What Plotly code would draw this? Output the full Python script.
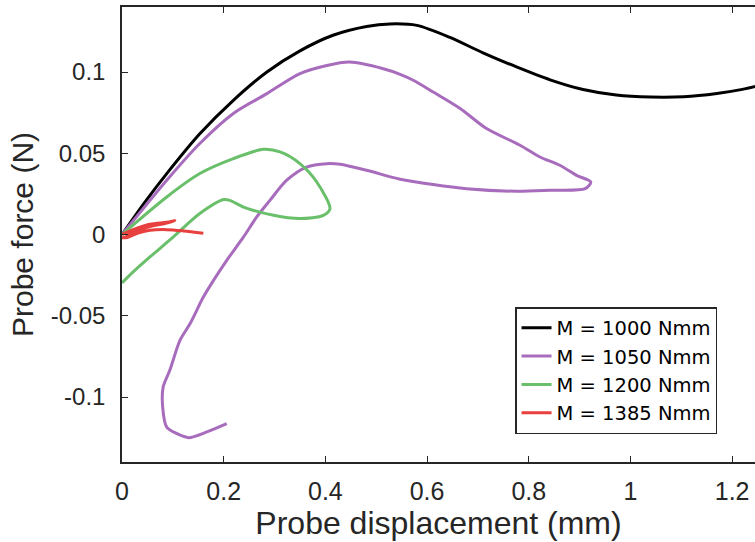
import plotly.graph_objects as go

# ---- data ----
x_1000 = [0.0, 0.044, 0.088, 0.153, 0.219, 0.285, 0.35, 0.415, 0.481, 0.527, 0.58, 0.645, 0.71,
          0.776, 0.842, 0.907, 0.972, 1.04, 1.105, 1.17, 1.22, 1.27]
y_1000 = [0.0, 0.0195, 0.0375, 0.062, 0.0826, 0.1, 0.113, 0.1226, 0.128, 0.1296, 0.1287, 0.1213,
          0.1118, 0.1031, 0.0952, 0.0892, 0.0858, 0.0846, 0.0848, 0.0868, 0.0893, 0.093]

x_1050 = [0.0, 0.088, 0.153, 0.219, 0.285, 0.35, 0.403, 0.448, 0.514, 0.547, 0.573, 0.612,
          0.665, 0.717, 0.783, 0.822, 0.861, 0.894, 0.922, 0.911, 0.842, 0.776, 0.678, 0.612,
          0.547, 0.481, 0.429, 0.403, 0.363, 0.324, 0.291, 0.265, 0.239, 0.206, 0.18, 0.16,
          0.134, 0.114, 0.094, 0.081, 0.08, 0.088, 0.108, 0.131, 0.167, 0.206]
y_1050 = [0.0, 0.0334, 0.056, 0.0745, 0.0867, 0.099, 0.104, 0.1061, 0.102, 0.0986, 0.0949, 0.0877,
          0.0776, 0.0652, 0.0549, 0.0477, 0.0426, 0.0364, 0.0323, 0.0282, 0.0272, 0.0266, 0.0282, 0.0307,
          0.034, 0.0395, 0.0432, 0.0436, 0.0415, 0.0334, 0.021, 0.0108, -0.0015, -0.0159, -0.0282, -0.0385,
          -0.0548, -0.0651, -0.0836, -0.0938, -0.1062, -0.1185, -0.1225, -0.125, -0.1215, -0.1164]

x_1200 = [0.0, 0.088, 0.153, 0.219, 0.278, 0.311, 0.35, 0.383, 0.409, 0.396, 0.35, 0.298,
          0.239, 0.212, 0.2, 0.153, 0.101, 0.055, 0.022, 0.0]
y_1200 = [0.0, 0.0231, 0.0375, 0.0467, 0.0524, 0.0508, 0.0436, 0.0323, 0.0159, 0.0118, 0.0098, 0.0118,
          0.0169, 0.021, 0.0215, 0.0129, -0.0015, -0.0138, -0.023, -0.0298]

x_1385 = [0.0, 0.022, 0.055, 0.088, 0.104, 0.09, 0.05, 0.02, 0.005, 0.0, 0.01, 0.03,
          0.055, 0.088, 0.121, 0.16]
y_1385 = [0.0, 0.003, 0.0063, 0.0075, 0.0085, 0.0072, 0.0045, 0.0012, -0.0018, -0.002, -0.0019, 0.0008,
          0.0026, 0.003, 0.0022, 0.0008]

series = [
    ("M = 1000 Nmm", x_1000, y_1000, "#000000"),
    ("M = 1050 Nmm", x_1050, y_1050, "#A86CBD"),
    ("M = 1200 Nmm", x_1200, y_1200, "#6ABF6A"),
    ("M = 1385 Nmm", x_1385, y_1385, "#E8403F"),
]

x_ticks = [0, 0.2, 0.4, 0.6, 0.8, 1, 1.2]
x_ticktext = ["0", "0.2", "0.4", "0.6", "0.8", "1", "1.2"]
y_ticks = [-0.1, -0.05, 0, 0.05, 0.1]
y_ticktext = ["-0.1", "-0.05", "0", "0.05", "0.1"]

FONT = "Liberation Sans, Arial, Helvetica, sans-serif"
LEGFONT = "DejaVu Sans, Liberation Sans, sans-serif"
AX = "#262626"

fig = go.Figure()
for name, xs, ys, col in series:
    fig.add_trace(go.Scatter(x=xs, y=ys, mode="lines", name=name,
                             line=dict(color=col, width=3, shape="spline", smoothing=0.8)))

fig.update_layout(
    width=755, height=542,
    margin=dict(l=122, r=0, t=7, b=80),
    paper_bgcolor="white", plot_bgcolor="white",
    font=dict(family=FONT, color=AX),
    showlegend=True,
    legend=dict(x=0.94, y=0.201, xanchor="right", yanchor="middle",
                bgcolor="white", bordercolor=AX, borderwidth=1.5,
                font=dict(family=LEGFONT, size=19.5, color="#000000"),
                tracegroupgap=0, itemwidth=30),
    xaxis=dict(range=[0, 1.245], tickvals=x_ticks, ticktext=x_ticktext,
               ticks="inside", ticklen=6, tickwidth=1, tickcolor=AX,
               showline=True, linecolor=AX, linewidth=1.5, mirror="ticks",
               showgrid=False, zeroline=False, ticklabelstandoff=6,
               tickfont=dict(size=25, color=AX),
               title=dict(text="Probe displacement (mm)", font=dict(size=32, color=AX), standoff=5)),
    yaxis=dict(range=[-0.14, 0.14], tickvals=y_ticks, ticktext=y_ticktext,
               ticks="inside", ticklen=6, tickwidth=1, tickcolor=AX,
               showline=True, linecolor=AX, linewidth=1.5, mirror=False,
               showgrid=False, zeroline=False, ticklabelstandoff=10,
               tickfont=dict(size=24, color=AX),
               title=dict(text="Probe force (N)", font=dict(size=30, color=AX), standoff=8)),
    yaxis2=dict(range=[-0.14, 0.14], tickvals=y_ticks, overlaying="y", side="right",
                ticks="inside", ticklen=6, tickwidth=1, tickcolor=AX,
                showline=False, showticklabels=False, showgrid=False, zeroline=False),
)

fig.write_html("out.html")
